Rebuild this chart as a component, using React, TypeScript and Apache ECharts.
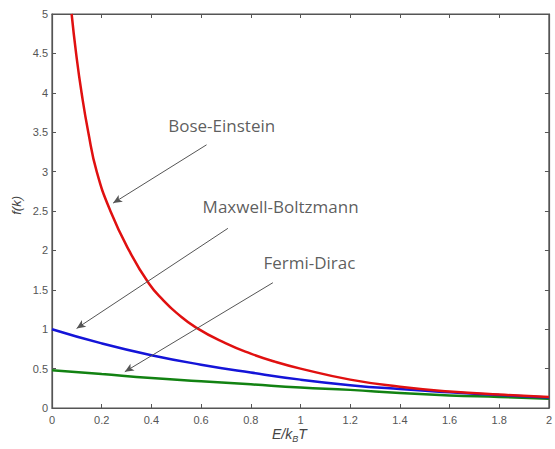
import React, { useEffect, useRef } from "react";
import * as echarts from "echarts";

const xTicks = [0, 0.2, 0.4, 0.6, 0.8, 1, 1.2, 1.4, 1.6, 1.8, 2];
const yTicks = [0, 0.5, 1, 1.5, 2, 2.5, 3, 3.5, 4, 4.5, 5];

const boseX = [0.079, 0.097, 0.119, 0.146, 0.18, 0.235, 0.31, 0.39, 0.45, 0.5, 0.58, 0.7, 0.8, 0.9, 1.0, 1.2, 1.4, 1.6, 1.8, 2.0];
const boseY = [5.0, 4.5, 4.0, 3.5, 3.0, 2.5, 2.0, 1.58, 1.36, 1.21, 1.02, 0.82, 0.69, 0.585, 0.5, 0.36, 0.27, 0.21, 0.17, 0.14];

const maxwellY = [1.0, 0.82, 0.67, 0.55, 0.45, 0.36, 0.29, 0.24, 0.2, 0.165, 0.132];
const fermiY = [0.48, 0.43, 0.38, 0.34, 0.3, 0.26, 0.23, 0.19, 0.16, 0.14, 0.118];

const labels = ["Bose-Einstein", "Maxwell-Boltzmann", "Fermi-Dirac"];
const arrowFrom = [[0.622, 3.34], [0.708, 2.28], [0.889, 1.59]];
const arrowTo = [[0.246, 2.6], [0.099, 1.01], [0.293, 0.46]];
const labelAt = [[0.683, 3.59], [0.92, 2.56], [1.036, 1.85]];

export default function App() {
  const ref = useRef<HTMLDivElement>(null);
  useEffect(() => {
    if (!ref.current) return;
    const chart = echarts.init(ref.current, null, { renderer: "svg" });
    const axisColor = "#555";
    const labelColor = "#555";
    const lineFor = (xs: number[], ys: number[]) => xs.map((x, i) => [x, ys[i]]);
    const arrowData = arrowFrom.map((f, i) => [{ coord: f }, { coord: arrowTo[i] }]);
    const boxAxis = (ticks: number[], extra: any) => ({
      type: "value",
      show: true,
      gridIndex: 0,
      axisLine: { show: true, onZero: false, lineStyle: { color: axisColor, width: 1.2 } },
      axisTick: { show: true, inside: true, length: 4, customValues: ticks, lineStyle: { color: axisColor } },
      splitLine: { show: false },
      ...extra,
    });
    const labelStyle = (margin: number, ticks: number[]) => ({
      color: labelColor,
      fontSize: 11,
      fontFamily: "Liberation Sans",
      margin,
      showMaxLabel: true,
      showMinLabel: true,
      hideOverlap: false,
      customValues: ticks,
      formatter: (v: number) => String(Math.round(v * 10) / 10),
    });
    const option: any = {
      animation: false,
      grid: { left: 52, right: 5, top: 14, bottom: 41, show: true, borderColor: axisColor, borderWidth: 1.2, backgroundColor: "transparent" },
      xAxis: [
        boxAxis(xTicks, { min: 0, max: 2, axisLabel: labelStyle(6, xTicks) }),
        boxAxis(xTicks, { position: "top", min: 0, max: 2, axisLabel: { show: false } }),
      ],
      yAxis: [
        boxAxis(yTicks, { min: 0, max: 5, axisLabel: labelStyle(4, yTicks) }),
        boxAxis(yTicks, { position: "right", min: 0, max: 5, axisLabel: { show: false } }),
      ],
      series: [
        {
          type: "line",
          data: lineFor(boseX, boseY),
          smooth: 0.5,
          showSymbol: false,
          lineStyle: { color: "#e01010", width: 2.5 },
          z: 3,
        },
        {
          type: "line",
          data: lineFor(xTicks, maxwellY),
          smooth: 0.5,
          showSymbol: false,
          lineStyle: { color: "#1414d8", width: 2.5 },
          z: 2,
        },
        {
          type: "line",
          data: lineFor(xTicks, fermiY),
          smooth: 0.5,
          showSymbol: false,
          lineStyle: { color: "#128212", width: 2.5 },
          z: 1,
        },
        {
          type: "scatter",
          xAxisIndex: 1,
          yAxisIndex: 1,
          data: labelAt.map((p, i) => ({ value: p, name: labels[i] })),
          symbolSize: 0,
          silent: true,
          label: {
            show: true,
            position: "inside",
            formatter: (p: any) => p.name,
            color: "#333",
            fontSize: 17,
            fontFamily: "Open Sans",
          },
          markLine: {
            silent: true,
            symbol: ["none", "arrow"],
            symbolSize: [6, 9],
            label: { show: false },
            lineStyle: { color: "#555", width: 1, type: "solid" },
            data: arrowData,
          },
          z: 5,
        },
      ],
      graphic: [
        {
          type: "text",
          left: 10,
          top: 196,
          rotation: Math.PI / 2,
          style: {
            text: "f(k)",
            fill: "#444",
            fontSize: 13,
            fontStyle: "italic",
            fontFamily: "Liberation Sans",
          },
        },
        {
          type: "text",
          left: 272,
          top: 427,
          style: {
            text: "{a|E/k}{b|B}{a|T}",
            rich: {
              a: { fontSize: 14, fontStyle: "italic", fill: "#444", fontFamily: "Liberation Sans" },
              b: { fontSize: 9, fontStyle: "italic", fill: "#444", fontFamily: "Liberation Sans", padding: [9, 0, 0, 0] },
            },
          },
        },
      ],
    };
    chart.setOption(option);
    return () => chart.dispose();
  }, []);
  return <div ref={ref} style={{ position: "absolute", left: 0, top: 0, width: 555, height: 449 }} />;
}
